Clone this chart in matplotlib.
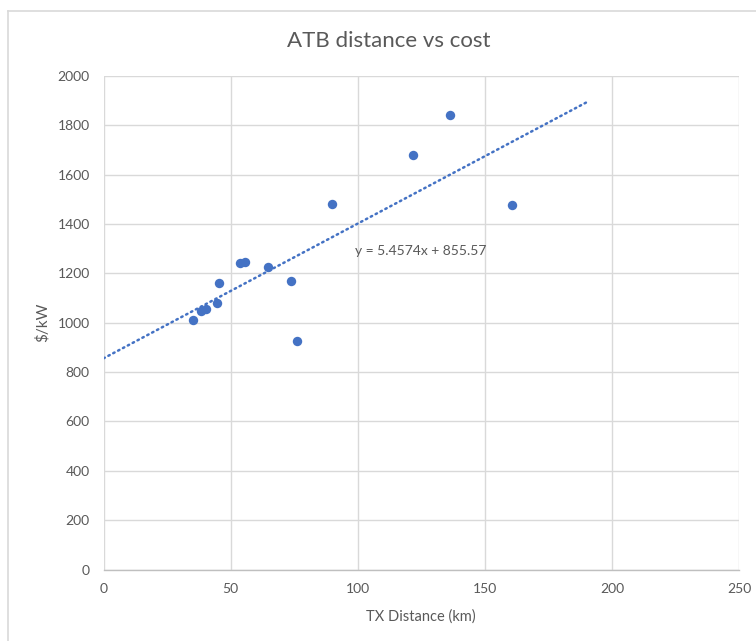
import matplotlib
matplotlib.use("Agg")
import matplotlib.pyplot as plt
import numpy as np
from matplotlib.lines import Line2D

# Data
tx_distance_km = [35.2, 38.5, 40.5, 44.8, 45.4, 53.8, 55.5, 64.8, 73.7, 76.3, 90.0, 121.9, 136.5, 160.7]
cost_per_kw = [1010, 1049, 1054, 1081, 1162, 1243, 1247, 1227, 1167, 925, 1481, 1680, 1842, 1475]
trend_slope = 5.4574
trend_intercept = 855.57
trend_x_range = [0, 190]
x_ticks = [0, 50, 100, 150, 200, 250]
y_ticks = [0, 200, 400, 600, 800, 1000, 1200, 1400, 1600, 1800, 2000]

plt.rcParams['font.family'] = ['Lato', 'DejaVu Sans']
text_color = '#595959'
blue = '#4472C4'

fig = plt.figure(figsize=(7.56, 6.41), dpi=100)
W, H = 756, 641
ax = fig.add_axes([103.5 / W, 1 - 569.6 / H, (739 - 103.5) / W, (569.6 - 75.8) / H])

# Outer chart border
fig.add_artist(Line2D([7.5 / W, 7.5 / W], [0, 1 - 10.5 / H], color='#d9d9d9', lw=1.2))
fig.add_artist(Line2D([7.5 / W, 1], [1 - 10.5 / H, 1 - 10.5 / H], color='#d9d9d9', lw=1.2))

ax.set_xlim(0, 250)
ax.set_ylim(0, 2000)
ax.set_xticks(x_ticks)
ax.set_yticks(y_ticks)
ax.grid(True, color='#d9d9d9', lw=1.0)
ax.set_axisbelow(True)
for s in ['top', 'right', 'left']:
    ax.spines[s].set_visible(False)
ax.spines['bottom'].set_color('#bfbfbf')
ax.spines['bottom'].set_linewidth(1.0)
ax.tick_params(length=0, labelsize=10, colors=text_color, pad=10)

ax.scatter(tx_distance_km, cost_per_kw, s=46, color=blue, zorder=3, linewidths=0)

tx = np.array(trend_x_range, dtype=float)
ax.plot(tx, trend_slope * tx + trend_intercept, color=blue, lw=1.8,
        linestyle=(0, (0.6, 1.6)), dash_capstyle='round', zorder=2)

ax.text(99, 1292, f'y = {trend_slope}x + {trend_intercept}', fontsize=10,
        color=text_color, va='center', ha='left')

ax.set_xlabel('TX Distance (km)', fontsize=10.5, color=text_color, labelpad=10)
ax.set_ylabel('$/kW', fontsize=11, color=text_color, va='center')
ax.yaxis.set_label_coords((42 - 103.5) / (739 - 103.5), 0.5)
fig.text(389 / W, 1 - 41 / H, 'ATB distance vs cost', fontsize=16, color=text_color,
         ha='center', va='center')

fig.savefig('out.png', dpi=100)
